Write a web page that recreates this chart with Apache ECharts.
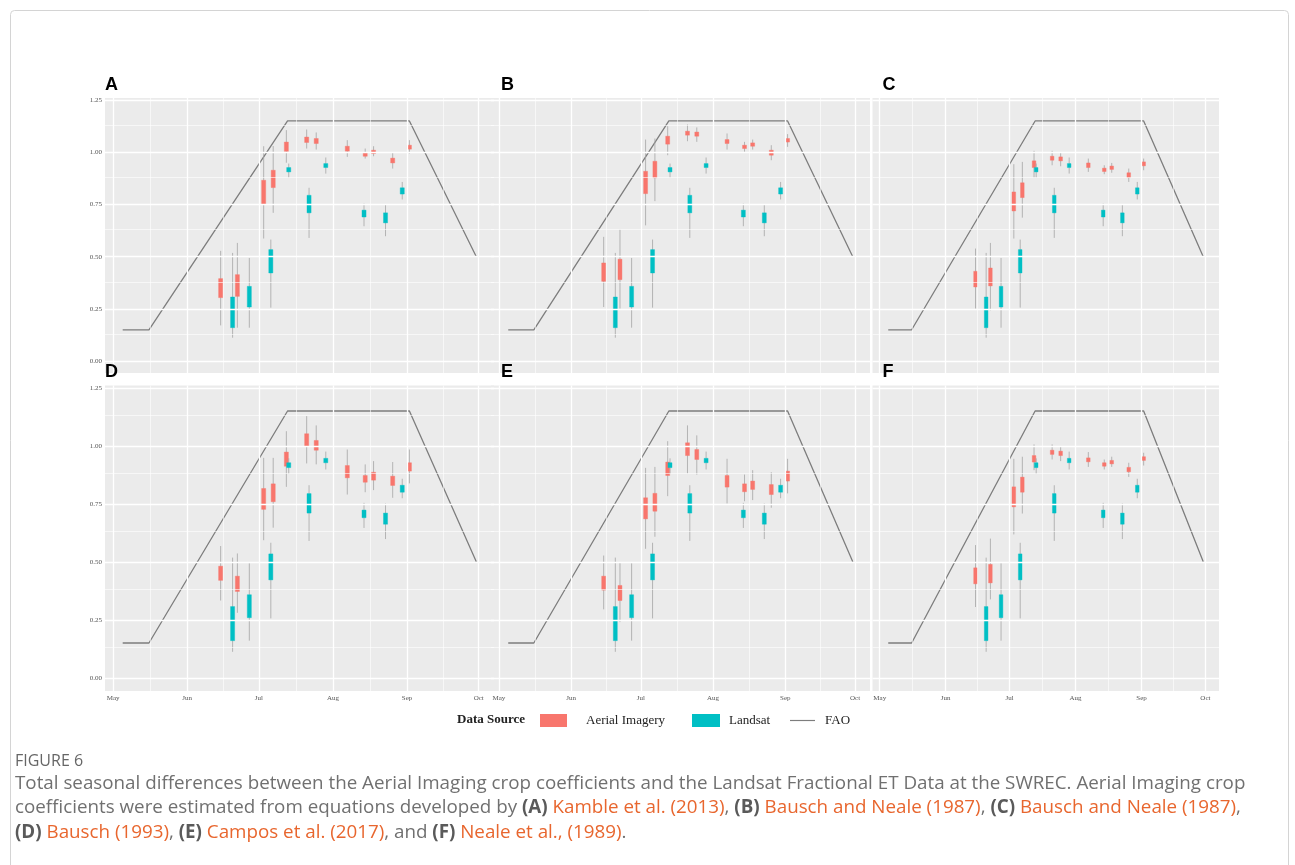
<!DOCTYPE html>
<html>
<head>
<meta charset="utf-8">
<title>Figure 6</title>
<script src="https://cdn.jsdelivr.net/npm/echarts@6/dist/echarts.min.js"></script>
<style>
html, body { margin: 0; padding: 0; background: #fff; }
#chart { width: 1295px; height: 865px; }
</style>
</head>
<body>
<div id="chart"></div>
<script>
// days counted from May 1
var monthDays = [0, 31, 61, 92, 123, 153];
var monthLabels = ['May', 'Jun', 'Jul', 'Aug', 'Sep', 'Oct'];
var midMonthDays = [15.5, 46, 76.5, 107.5, 138];
var yTicks = [0, 0.25, 0.5, 0.75, 1, 1.25];
var yMinorTicks = [0.125, 0.375, 0.625, 0.875, 1.125];

var faoDays = [4, 15, 73, 124, 152];
var faoKc = [0.15, 0.15, 1.15, 1.15, 0.5];

var aerialDays = [45, 52, 63, 67, 72.5, 81, 85, 98, 105.5, 109, 117, 124];
var landsatDays = [50, 57, 66, 73.5, 82, 89, 105, 114, 121];

// [min, q1, q3, max]
var landsat = [
  [0.112, 0.16, 0.307, 0.518], [0.16, 0.259, 0.358, 0.494], [0.256, 0.422, 0.534, 0.582],
  [0.879, 0.906, 0.927, 0.946], [0.59, 0.71, 0.794, 0.83], [0.898, 0.927, 0.946, 0.975],
  [0.646, 0.69, 0.723, 0.754], [0.598, 0.662, 0.71, 0.751], [0.774, 0.8, 0.83, 0.858]
];
var aerialA = [
  [0.171, 0.304, 0.395, 0.528], [0.16, 0.31, 0.414, 0.566], [0.587, 0.751, 0.866, 1.029],
  [0.71, 0.831, 0.914, 1.03], [0.95, 1.004, 1.049, 1.106], [1.018, 1.047, 1.073, 1.109],
  [1.013, 1.042, 1.066, 1.095], [0.978, 1.005, 1.029, 1.058], [0.97, 0.981, 0.997, 1.018],
  [0.981, 0.994, 1.01, 1.029], [0.922, 0.949, 0.972, 0.997], [0.994, 1.015, 1.034, 1.058]
];
var aerialB = [
  [0.259, 0.382, 0.47, 0.595], [0.251, 0.39, 0.488, 0.63], [0.65, 0.802, 0.909, 1.061],
  [0.766, 0.878, 0.957, 1.066], [0.986, 1.039, 1.077, 1.125], [1.053, 1.082, 1.101, 1.133],
  [1.05, 1.077, 1.097, 1.119], [1.013, 1.042, 1.061, 1.09], [1.002, 1.018, 1.034, 1.05],
  [1.013, 1.029, 1.045, 1.061], [0.962, 0.986, 1.01, 1.034], [1.026, 1.049, 1.066, 1.087]
];
var aerialC = [
  [0.251, 0.355, 0.43, 0.539], [0.243, 0.36, 0.446, 0.566], [0.587, 0.719, 0.81, 0.943],
  [0.687, 0.783, 0.854, 0.954], [0.879, 0.927, 0.959, 1.007], [0.938, 0.962, 0.981, 1.007],
  [0.933, 0.959, 0.978, 0.997], [0.906, 0.927, 0.949, 0.97], [0.895, 0.908, 0.924, 0.938],
  [0.902, 0.918, 0.934, 0.949], [0.858, 0.879, 0.902, 0.922], [0.914, 0.935, 0.954, 0.97]
];
var aerialD = [
  [0.333, 0.42, 0.481, 0.568], [0.28, 0.372, 0.438, 0.536], [0.593, 0.726, 0.816, 0.948],
  [0.647, 0.759, 0.836, 0.948], [0.823, 0.912, 0.973, 1.063], [0.924, 0.999, 1.052, 1.128],
  [0.92, 0.981, 1.023, 1.088], [0.79, 0.862, 0.915, 0.984], [0.8, 0.843, 0.872, 0.92],
  [0.809, 0.852, 0.886, 0.934], [0.776, 0.829, 0.869, 0.93], [0.838, 0.891, 0.927, 0.984]
];
var aerialE = [
  [0.295, 0.378, 0.438, 0.527], [0.24, 0.333, 0.398, 0.496], [0.556, 0.685, 0.776, 0.905],
  [0.608, 0.718, 0.795, 0.909], [0.783, 0.872, 0.93, 1.02], [0.881, 0.958, 1.013, 1.088],
  [0.876, 0.941, 0.984, 1.045], [0.751, 0.822, 0.872, 0.944], [0.761, 0.802, 0.836, 0.876],
  [0.766, 0.812, 0.848, 0.895], [0.733, 0.79, 0.833, 0.886], [0.795, 0.848, 0.891, 0.944]
];
var aerialF = [
  [0.305, 0.405, 0.474, 0.572], [0.338, 0.409, 0.489, 0.6], [0.618, 0.737, 0.823, 0.944],
  [0.708, 0.8, 0.865, 0.953], [0.895, 0.93, 0.958, 1.006], [0.941, 0.963, 0.981, 1.006],
  [0.934, 0.958, 0.977, 0.999], [0.909, 0.931, 0.948, 0.973], [0.898, 0.912, 0.927, 0.941],
  [0.909, 0.922, 0.937, 0.953], [0.866, 0.888, 0.907, 0.927], [0.915, 0.937, 0.953, 0.97]
];
var panelLetters = ['A', 'B', 'C', 'D', 'E', 'F'];
var panelAerial = [aerialA, aerialB, aerialC, aerialD, aerialE, aerialF];

// layout of the 2 x 3 panels
var colLeft = [105, 491, 872.5];
var colWidth = [389, 379, 346.5];
var rowTop = [98, 385.5];
var rowHeight = [275, 305.5];

var red = '#F8766D', teal = '#00BFC4';
var serif = '"Liberation Serif", "DejaVu Serif", serif';

function withDays(days, rows) {
  return rows.map(function (r, i) { return [days[i]].concat(r); });
}

function renderBox(params, api) {
  var x = api.value(0);
  var lo = api.coord([x, api.value(1)]);
  var q1 = api.coord([x, api.value(2)]);
  var q3 = api.coord([x, api.value(3)]);
  var hi = api.coord([x, api.value(4)]);
  var w = api.size([1.7, 0])[0];
  var h = Math.max(q1[1] - q3[1], 2.5);
  var color = api.visual('color');
  return {
    type: 'group',
    children: [
      { type: 'line', shape: { x1: lo[0], y1: lo[1], x2: hi[0], y2: hi[1] },
        style: { stroke: '#a5a5a5', lineWidth: 0.8 } },
      { type: 'rect', shape: { x: q3[0] - w / 2, y: (q1[1] + q3[1]) / 2 - h / 2, width: w, height: h },
        style: { fill: color, stroke: color, lineWidth: 0.4 } }
    ]
  };
}

var grids = [], xAxes = [], yAxes = [], series = [], graphics = [];

for (var i = 0; i < 6; i++) {
  var row = Math.floor(i / 3), col = i % 3;
  var bottom = row === 1, first = col === 0;
  grids.push({
    left: colLeft[col], top: rowTop[row], width: colWidth[col], height: rowHeight[row],
    show: true, backgroundColor: '#EBEBEB', borderWidth: 0
  });
  xAxes.push({
    gridIndex: i, type: 'value', min: -3.4, max: 159.4,
    axisLine: { show: false },
    splitLine: { show: false },
    axisTick: { show: bottom, customValues: monthDays, length: 3, lineStyle: { color: '#444', width: 0.8 } },
    axisLabel: {
      show: bottom, customValues: monthDays, margin: 4,
      fontFamily: serif, fontSize: 7, color: '#555',
      formatter: function (v) { return monthLabels[monthDays.indexOf(v)]; }
    }
  });
  yAxes.push({
    gridIndex: i, type: 'value', min: -0.057, max: 1.26,
    axisLine: { show: false },
    splitLine: { show: false },
    axisTick: { show: first, customValues: yTicks, length: 3, lineStyle: { color: '#444', width: 0.8 } },
    axisLabel: {
      show: first, customValues: yTicks, margin: 3,
      fontFamily: serif, fontSize: 7, color: '#555',
      formatter: function (v) { return v.toFixed(2); }
    }
  });

  var lines = [];
  monthDays.forEach(function (d) { lines.push({ xAxis: d, lineStyle: { width: 1.3 } }); });
  midMonthDays.forEach(function (d) { lines.push({ xAxis: d, lineStyle: { width: 0.6 } }); });
  yTicks.forEach(function (v) { lines.push({ yAxis: v, lineStyle: { width: 1.3 } }); });
  yMinorTicks.forEach(function (v) { lines.push({ yAxis: v, lineStyle: { width: 0.6 } }); });

  series.push({
    type: 'line', xAxisIndex: i, yAxisIndex: i, data: [], silent: true, z: 1,
    markLine: {
      silent: true, symbol: ['none', 'none'], label: { show: false },
      lineStyle: { color: '#ffffff', type: 'solid' },
      emphasis: { disabled: true },
      data: lines
    }
  });
  series.push({
    name: 'FAO', type: 'line', xAxisIndex: i, yAxisIndex: i, z: 3,
    symbol: 'none', silent: true,
    lineStyle: { color: '#7d7d7d', width: 1.3 },
    itemStyle: { color: '#7d7d7d' },
    data: faoDays.map(function (d, k) { return [d, faoKc[k]]; })
  });
  series.push({
    name: 'Aerial Imagery', type: 'custom', xAxisIndex: i, yAxisIndex: i, z: 4,
    renderItem: renderBox, itemStyle: { color: red },
    encode: { x: 0, y: [1, 2, 3, 4] },
    data: withDays(aerialDays, panelAerial[i])
  });
  series.push({
    name: 'Landsat', type: 'custom', xAxisIndex: i, yAxisIndex: i, z: 4,
    renderItem: renderBox, itemStyle: { color: teal },
    encode: { x: 0, y: [1, 2, 3, 4] },
    data: withDays(landsatDays, landsat)
  });

  graphics.push({
    type: 'text', left: colLeft[col] + (col === 0 ? 0 : 10), top: rowTop[row] - 22, z: 100,
    style: { text: panelLetters[i], font: 'bold 18px "Liberation Sans", Arial, sans-serif', fill: '#000' }
  });
}

graphics.push({
  type: 'text', left: 457, top: 713,
  style: { text: 'Data Source', font: 'bold 13px ' + serif, fill: '#222' }
});

var linkColor = '#E8662E', capGrey = '#707070';
var capFont = '"Open Sans", sans-serif';
var capRich = {
  b: { fontWeight: 'bold', fill: '#5a5a5a', fontSize: 18.8, fontFamily: capFont },
  l: { fill: linkColor, fontSize: 18.8, fontFamily: capFont }
};
var capLines = [
  'Total seasonal differences between the Aerial Imaging crop coefficients and the Landsat Fractional ET Data at the SWREC. Aerial Imaging crop',
  'coefficients were estimated from equations developed by {b|(A)} {l|Kamble et al. (2013)}, {b|(B)} {l|Bausch and Neale (1987)}, {b|(C)} {l|Bausch and Neale (1987)},',
  '{b|(D)} {l|Bausch (1993)}, {b|(E)} {l|Campos et al. (2017)}, and {b|(F)} {l|Neale et al., (1989)}.'
];
graphics.push({
  type: 'text', left: 15, top: 753,
  style: { text: 'FIGURE 6', font: '16px ' + capFont, fill: '#666' }
});
capLines.forEach(function (t, k) {
  graphics.push({
    type: 'text', left: 15, top: 774 + k * 24.5,
    style: { text: t, font: '18.8px ' + capFont, fill: capGrey, rich: capRich }
  });
});
graphics.push({
  type: 'rect', left: 8, top: 8, z: -1,
  shape: { width: 1278, height: 900, r: 4 },
  style: { fill: 'none', stroke: '#d4d4d4', lineWidth: 1 }
});

var legendText = { fontFamily: serif, fontSize: 13, color: '#222' };
var option = {
  animation: false,
  grid: grids,
  xAxis: xAxes,
  yAxis: yAxes,
  series: series,
  graphic: graphics,
  legend: [
    { left: 540, top: 714, padding: 0, itemWidth: 27, itemHeight: 13, selectedMode: false,
      data: [{ name: 'Aerial Imagery', icon: 'rect' }],
      textStyle: Object.assign({ padding: [0, 0, 0, 14] }, legendText) },
    { left: 692, top: 714, padding: 0, itemWidth: 28, itemHeight: 13, selectedMode: false,
      data: [{ name: 'Landsat', icon: 'rect' }],
      textStyle: Object.assign({ padding: [0, 0, 0, 4] }, legendText) },
    { left: 790, top: 714, padding: 0, itemWidth: 25, itemHeight: 13, selectedMode: false,
      data: [{ name: 'FAO', icon: 'path://M0,6h30v1.4h-30z' }],
      textStyle: Object.assign({ padding: [0, 0, 0, 5] }, legendText) }
  ]
};

var myChart = echarts.init(document.getElementById('chart'));
myChart.setOption(option);
</script>
</body>
</html>
